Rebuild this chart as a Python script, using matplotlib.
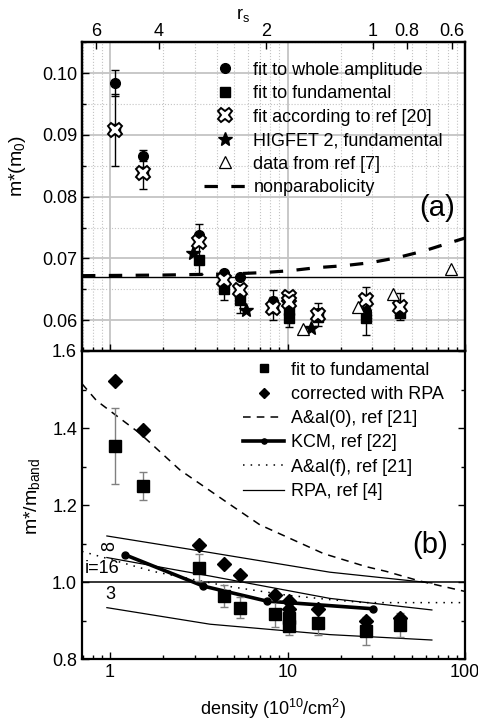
import numpy as np
import matplotlib
matplotlib.use('Agg')
import matplotlib.pyplot as plt
from matplotlib.ticker import FixedLocator, FixedFormatter, LogLocator, NullFormatter, NullLocator, MultipleLocator

plt.rcParams['font.family'] = ['Liberation Sans', 'DejaVu Sans']
plt.rcParams['font.size'] = 13
plt.rcParams['mathtext.default'] = 'regular'

# ---- panel (a): m* in units of m0 ----
n_amp = np.array([1.067, 1.54, 3.17, 4.40, 5.39, 8.3, 10.2, 14.9, 27.6, 43.1])
m_amp = np.array([0.0984, 0.0866, 0.0738, 0.0676, 0.0670, 0.0631, 0.0630, 0.0612, 0.0615, 0.0611])
e_amp = np.array([0.0021, 0.0009, 0.0017, 0, 0, 0.0017, 0, 0, 0, 0])

n_fund = np.array([1.067, 1.54, 3.17, 4.40, 5.39, 8.3, 10.2, 10.2, 14.9, 27.6, 43.1])
m_fund = np.array([0.0910, 0.0840, 0.0698, 0.0650, 0.0633, 0.0619, 0.0617, 0.0603, 0.0605, 0.0603, 0.0612])
e_fund = np.array([0, 0, 0.0024, 0.0018, 0.0021, 0, 0, 0.0014, 0, 0.0027, 0])

n_ref20 = np.array([1.067, 1.54, 3.17, 4.40, 5.39, 8.3, 10.2, 10.2, 14.9, 27.6, 43.1])
m_ref20 = np.array([0.0908, 0.0838, 0.0727, 0.0665, 0.0649, 0.0619, 0.0638, 0.0630, 0.0609, 0.0633, 0.0622])
e_ref20 = np.array([0.0058, 0.0025, 0, 0, 0, 0.0019, 0.0008, 0, 0.0018, 0.0021, 0.0022])

n_hig = [2.94, 5.83, 13.5]
m_hig = [0.0708, 0.0617, 0.0587]

n_ref7 = [12.2, 25.0, 39.3, 83.5]
m_ref7 = [0.0586, 0.0622, 0.0642, 0.0682]

n_np = [0.695, 2, 5, 7.3, 10.3, 14.6, 20.5, 29.3, 41.3, 58.5, 81.4, 100]
m_np = [0.0672, 0.0673, 0.0675, 0.0677, 0.0680, 0.0685, 0.0688, 0.0693, 0.0701, 0.0712, 0.0725, 0.0733]
m_band = 0.067

# r_s axis on top
rs_ticks = [6, 4, 2, 1, 0.8, 0.6]
rs_labels = ['6', '4', '2', '1', '0.8', '0.6']
n_rs1 = 30.2   # density at r_s = 1

# ---- panel (b): m*/m_band ----
n_b = np.array([1.067, 1.54, 3.17, 4.38, 5.39, 8.5, 10.2, 10.2, 14.9, 27.8, 42.9])
fund_b = np.array([1.353, 1.250, 1.037, 0.964, 0.934, 0.918, 0.908, 0.886, 0.895, 0.874, 0.888])
err_b = np.array([0.098, 0.037, 0.035, 0.028, 0.028, 0.035, 0.045, 0, 0.032, 0.037, 0.031])
rpa_b = np.array([1.523, 1.396, 1.097, 1.046, 1.020, 0.968, 0.951, 0.930, 0.931, 0.899, 0.908])

n_a0 = [0.695, 0.84, 1.475, 2.48, 4.94, 6.98, 16, 27.9, 36, 55.6, 100]
m_a0 = [1.515, 1.471, 1.386, 1.291, 1.196, 1.149, 1.074, 1.040, 1.028, 1.003, 0.976]

n_af = [0.695, 1.75, 4.53, 10, 17.3, 27, 100]
m_af = [1.080, 1.028, 0.990, 0.966, 0.955, 0.947, 0.947]

n_kcm = [1.21, 3.35, 7.63, 30.4]
m_kcm = [1.0715, 0.990, 0.951, 0.931]

n_rpa = [0.96, 3.66, 17.3, 65]
rpa_inf = [1.120, 1.077, 1.026, 0.998]
rpa_16 = [1.064, 1.016, 0.958, 0.928]
rpa_3 = [0.934, 0.891, 0.864, 0.850]

fig = plt.figure(figsize=(4.78, 7.21), dpi=100)
ax1 = fig.add_axes([0.1715, 0.5132, 0.8015, 0.4281])
ax2 = fig.add_axes([0.1715, 0.0856, 0.8015, 0.4276])

xlim = (0.695, 100)

# ---------- top ----------
ax1.set_xscale('log')
ax1.set_xlim(xlim)
ax1.set_ylim(0.055, 0.105)
ax1.yaxis.set_minor_locator(MultipleLocator(0.005))
ax1.set_yticks([0.06, 0.07, 0.08, 0.09, 0.10])
ax1.set_yticklabels(['0.06', '0.07', '0.08', '0.09', '0.10'])
ax1.xaxis.set_minor_locator(LogLocator(base=10, subs=np.arange(2, 10)))
ax1.xaxis.set_major_formatter(NullFormatter())
ax1.xaxis.set_minor_formatter(NullFormatter())
ax1.grid(which='major', color='#c4c4c4', lw=1.3, ls='-')
ax1.grid(which='minor', color='#c4c4c4', lw=0.8, ls=':')
ax1.set_axisbelow(True)
ax1.tick_params(which='both', direction='in', top=False, right=False, width=1)
ax1.tick_params(which='major', length=5)
ax1.tick_params(which='minor', length=3)

ax1.axhline(m_band, color='k', lw=1, zorder=2)
h_np, = ax1.plot(n_np, m_np, color='k', lw=2.3, dashes=(4.2, 4.2), zorder=2)

ebk = dict(fmt='none', ecolor='k', elinewidth=1, capsize=3, capthick=1, zorder=3)
ok = e_amp > 0
ax1.errorbar(n_amp[ok], m_amp[ok], yerr=e_amp[ok], **ebk)
ok = e_fund > 0
ax1.errorbar(n_fund[ok], m_fund[ok], yerr=e_fund[ok], **ebk)
ok = e_ref20 > 0
ax1.errorbar(n_ref20[ok], m_ref20[ok], yerr=e_ref20[ok], **ebk)

h_star, = ax1.plot(n_hig, m_hig, ls='none', marker='*', ms=10, color='k', zorder=4)
h_circ, = ax1.plot(n_amp, m_amp, ls='none', marker='o', ms=7, color='k', zorder=4)
h_sq, = ax1.plot(n_fund, m_fund, ls='none', marker='s', ms=6.5, color='k', zorder=5)
h_x, = ax1.plot(n_ref20, m_ref20, ls='none', marker='X', ms=10.5, mfc='white', mec='k',
                mew=1.4, zorder=6)
h_tri, = ax1.plot(n_ref7, m_ref7, ls='none', marker='^', ms=9, mfc='white', mec='k',
                  mew=0.9, zorder=6)

ax1.legend([h_circ, h_sq, h_x, h_star, h_tri, h_np],
           ['fit to whole amplitude', 'fit to fundamental', 'fit according to ref [20]',
            'HIGFET 2, fundamental', 'data from ref [7]', 'nonparabolicity'],
           loc='upper left', bbox_to_anchor=(0.318, 0.937), frameon=False,
           borderpad=0, borderaxespad=0, handlelength=2.3, handletextpad=0.45,
           labelspacing=0.36, fontsize=13)

ax1.text(0.926, 0.462, '(a)', transform=ax1.transAxes, ha='center', va='center', fontsize=21)
ax1.set_ylabel('m*(m$_0$)', fontsize=14)
ax1.yaxis.set_label_coords(-0.14, 0.6)

# top r_s axis
axt = ax1.twiny()
axt.set_xscale('log')
axt.set_xlim(xlim)
axt.xaxis.set_major_locator(FixedLocator([n_rs1 / r ** 2 for r in rs_ticks]))
axt.xaxis.set_major_formatter(FixedFormatter(rs_labels))
axt.xaxis.set_minor_locator(NullLocator())
axt.tick_params(direction='in', length=5, width=1, pad=2)
ax1.text(0.42, 1.088, 'r$_s$', transform=ax1.transAxes, ha='center', va='center', fontsize=13)

# ---------- bottom ----------
ax2.set_xscale('log')
ax2.set_xlim(xlim)
ax2.set_ylim(0.8, 1.6)
ax2.set_yticks([0.8, 1.0, 1.2, 1.4, 1.6])
ax2.set_yticklabels(['0.8', '1.0', '1.2', '1.4', '1.6'])
ax2.yaxis.set_minor_locator(MultipleLocator(0.1))
ax2.set_xticks([1, 10, 100])
ax2.set_xticklabels(['1', '10', '100'])
ax2.xaxis.set_minor_locator(LogLocator(base=10, subs=np.arange(2, 10)))
ax2.xaxis.set_minor_formatter(NullFormatter())
ax2.tick_params(which='both', direction='in', top=False, right=True, width=1)
ax2.tick_params(which='major', length=5)
ax2.tick_params(which='minor', length=3)

ax2.axhline(1.0, color='k', lw=1.1, zorder=2)
l_a0, = ax2.plot(n_a0, m_a0, color='k', lw=1.1, dashes=(5, 4), zorder=2)
l_kcm, = ax2.plot(n_kcm, m_kcm, color='k', lw=2.6, marker='o', ms=5, zorder=3)
l_af, = ax2.plot(n_af, m_af, color='k', lw=1.1, ls=(0, (1, 4)), zorder=2)
l_rpa, = ax2.plot(n_rpa, rpa_inf, color='k', lw=0.9, zorder=2)
ax2.plot(n_rpa, rpa_16, color='k', lw=0.9, zorder=2)
ax2.plot(n_rpa, rpa_3, color='k', lw=0.9, zorder=2)

ok = err_b > 0
ax2.errorbar(n_b[ok], fund_b[ok], yerr=err_b[ok], fmt='none', ecolor='#808080',
             elinewidth=1, capsize=3, capthick=1, zorder=3)
h_bsq, = ax2.plot(n_b, fund_b, ls='none', marker='s', ms=8, color='k', zorder=4)
h_dia, = ax2.plot(n_b, rpa_b, ls='none', marker='D', ms=7, color='k', zorder=4)

ax2.text(1.0, 1.094, '8', rotation=90, ha='center', va='center', fontsize=13)
ax2.text(0.90, 1.035, 'i=16', ha='center', va='center', fontsize=13)
ax2.text(1.01, 0.968, '3', ha='center', va='center', fontsize=13)

ax2.legend([h_bsq, h_dia, l_a0, l_kcm, l_af, l_rpa],
           ['fit to fundamental', 'corrected with RPA', 'A&al(0), ref [21]',
            'KCM, ref [22]', 'A&al(f), ref [21]', 'RPA, ref [4]'],
           loc='upper left', bbox_to_anchor=(0.42, 0.965), frameon=False,
           borderpad=0, borderaxespad=0, handlelength=2.3, handletextpad=0.35,
           labelspacing=0.4, fontsize=13, markerscale=0.75)

ax2.text(0.909, 0.371, '(b)', transform=ax2.transAxes, ha='center', va='center', fontsize=21)
ax2.set_ylabel('m*/m$_{band}$', fontsize=14)
ax2.yaxis.set_label_coords(-0.105, 0.53)
ax2.set_xlabel('density (10$^{10}$/cm$^2$)', fontsize=13, labelpad=11)

for ax in (ax1, ax2, axt):
    for s in ax.spines.values():
        s.set_linewidth(1.6)

fig.savefig('out.png', dpi=100)
